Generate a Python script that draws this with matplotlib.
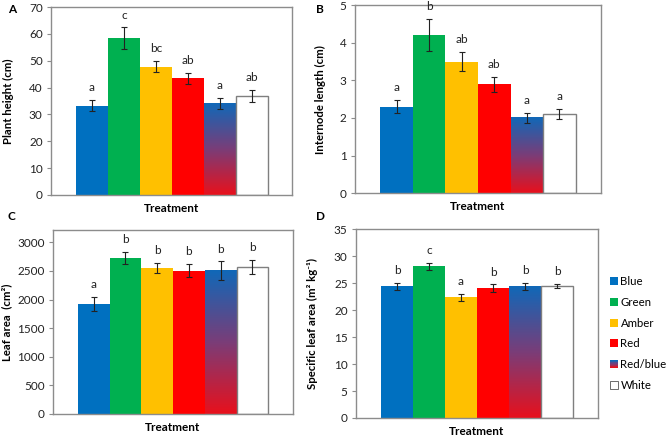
import numpy as np
import matplotlib
matplotlib.use('Agg')
import matplotlib.pyplot as plt
from matplotlib.colors import LinearSegmentedColormap
from matplotlib.legend_handler import HandlerBase
from matplotlib.patches import Rectangle
from matplotlib.transforms import blended_transform_factory

plt.rcParams['font.family'] = ['Lato', 'DejaVu Sans']
plt.rcParams['font.size'] = 8.5

## Data ##

treatments = ['Blue', 'Green', 'Amber', 'Red', 'Red/blue', 'White']

height = [33.3, 58.4, 47.8, 43.4, 34.0, 36.9]
height_err = [2.0, 4.0, 2.0, 2.0, 2.0, 2.2]
height_let = ['a', 'c', 'bc', 'ab', 'a', 'ab']

internode = [2.3, 4.2, 3.5, 2.9, 2.0, 2.1]
internode_err = [0.17, 0.43, 0.26, 0.2, 0.14, 0.14]
internode_let = ['a', 'b', 'ab', 'ab', 'a', 'a']

leaf_area = [1920, 2720, 2550, 2505, 2505, 2565]
leaf_area_err = [120, 105, 85, 110, 160, 125]
leaf_area_let = ['a', 'b', 'b', 'b', 'b', 'b']

sla = [24.4, 28.1, 22.4, 24.1, 24.45, 24.45]
sla_err = [0.65, 0.6, 0.65, 0.65, 0.65, 0.4]
sla_let = ['b', 'c', 'a', 'b', 'b', 'b']

colours = ['#0070C0', '#00B050', '#FFC000', '#FF0000', None, '#FFFFFF']
grad = LinearSegmentedColormap.from_list('rb', ['#E8101C', '#7a3d78', '#1068B8'])
grey = '#8c8c8c'

## Gradient square for the legend ##

class GradientHandler(HandlerBase):
    def create_artists(self, legend, orig_handle, xdescent, ydescent,
                       width, height, fontsize, trans):
        n = 10
        side = height
        x0 = -xdescent + (width - side) / 2
        out = []
        for k in range(n):
            r = Rectangle((x0, -ydescent + side * k / n), side, side / n + 0.05,
                          facecolor=grad(k / (n - 1)), edgecolor='none',
                          transform=trans)
            out.append(r)
        return out


def panel(ax, vals, errs, lets, ymax, ystep, ylabel, labx):
    x = np.arange(len(vals))
    for i in range(len(vals)):
        if colours[i] is None:
            ax.bar(x[i], vals[i], width=1.0, color='none', edgecolor='none')
            img = np.linspace(0, 1, 256).reshape(-1, 1)
            ax.imshow(img, cmap=grad, origin='lower', aspect='auto',
                      extent=[x[i] - 0.5, x[i] + 0.5, 0, vals[i]], zorder=2)
        elif colours[i] == '#FFFFFF':
            ax.bar(x[i], vals[i], width=1.0, color='white', edgecolor='#7f7f7f',
                   linewidth=1.0, zorder=2)
        else:
            ax.bar(x[i], vals[i], width=1.0, color=colours[i], edgecolor='none',
                   zorder=2)
    ax.errorbar(x, vals, yerr=errs, fmt='none', ecolor='#222222',
                elinewidth=0.8, capsize=2.2, capthick=0.8, zorder=3)
    for i in range(len(vals)):
        ax.annotate(lets[i], (x[i], vals[i] + errs[i]), xytext=(0, 5),
                    textcoords='offset points', ha='center', va='bottom',
                    color='#222222')
    ax.set_xlim(-1.28, 6.27)
    ax.set_ylim(0, ymax)
    ax.set_yticks(np.arange(0, ymax + 0.001, ystep))
    ax.set_xticks([])
    ax.set_xlabel('Treatment', fontweight='bold', labelpad=6)
    ax.set_ylabel(ylabel, fontweight='bold', fontsize=8.2)
    tr = blended_transform_factory(fig.transFigure, ax.transAxes)
    ax.yaxis.set_label_coords(labx, 0.5, transform=tr)
    for s in ax.spines.values():
        s.set_color(grey)
        s.set_linewidth(1.0)
    ax.tick_params(axis='y', direction='out', length=3, color=grey,
                   labelcolor='#222222', pad=3)


fig = plt.figure(figsize=(6.66, 4.36), dpi=100)

axA = fig.add_axes([0.0766, 0.5528, 0.362, 0.431])
axB = fig.add_axes([0.533, 0.557, 0.369, 0.431])
axC = fig.add_axes([0.0796, 0.0505, 0.360, 0.422])
axD = fig.add_axes([0.5345, 0.0413, 0.363, 0.433])

panel(axA, height, height_err, height_let, 70, 10, 'Plant height (cm)', 0.0203)
panel(axB, internode, internode_err, internode_let, 5, 1, 'Internode length (cm)', 0.489)
panel(axC, leaf_area, leaf_area_err, leaf_area_let, 3215, 500, 'Leaf area  (cm²)', 0.019)
axC.set_yticks(np.arange(0, 3001, 500))
panel(axD, sla, sla_err, sla_let, 35, 5, 'Specific leaf area (m² kg⁻¹)', 0.477)

for lab, xx, yy in [('A', 0.012, 0.978), ('B', 0.474, 0.978),
                    ('C', 0.012, 0.503), ('D', 0.474, 0.503)]:
    fig.text(xx, yy, lab, fontweight='bold', ha='left', va='center')

## Legend ##

handles = []
for c in colours:
    if c is None:
        handles.append(Rectangle((0, 0), 1, 1))
    elif c == '#FFFFFF':
        handles.append(Rectangle((0, 0), 1, 1, facecolor='white',
                                 edgecolor='#555555', linewidth=0.6))
    else:
        handles.append(Rectangle((0, 0), 1, 1, facecolor=c, edgecolor='none'))

hmap = {handles[4]: GradientHandler()}
fig.legend(handles, treatments, loc='upper left', bbox_to_anchor=(0.9, 0.39),
           frameon=False, handlelength=0.7, handleheight=0.7, handletextpad=0.25,
           labelspacing=0.85, handler_map=hmap, fontsize=8.2)

fig.savefig('out.png', dpi=100)
